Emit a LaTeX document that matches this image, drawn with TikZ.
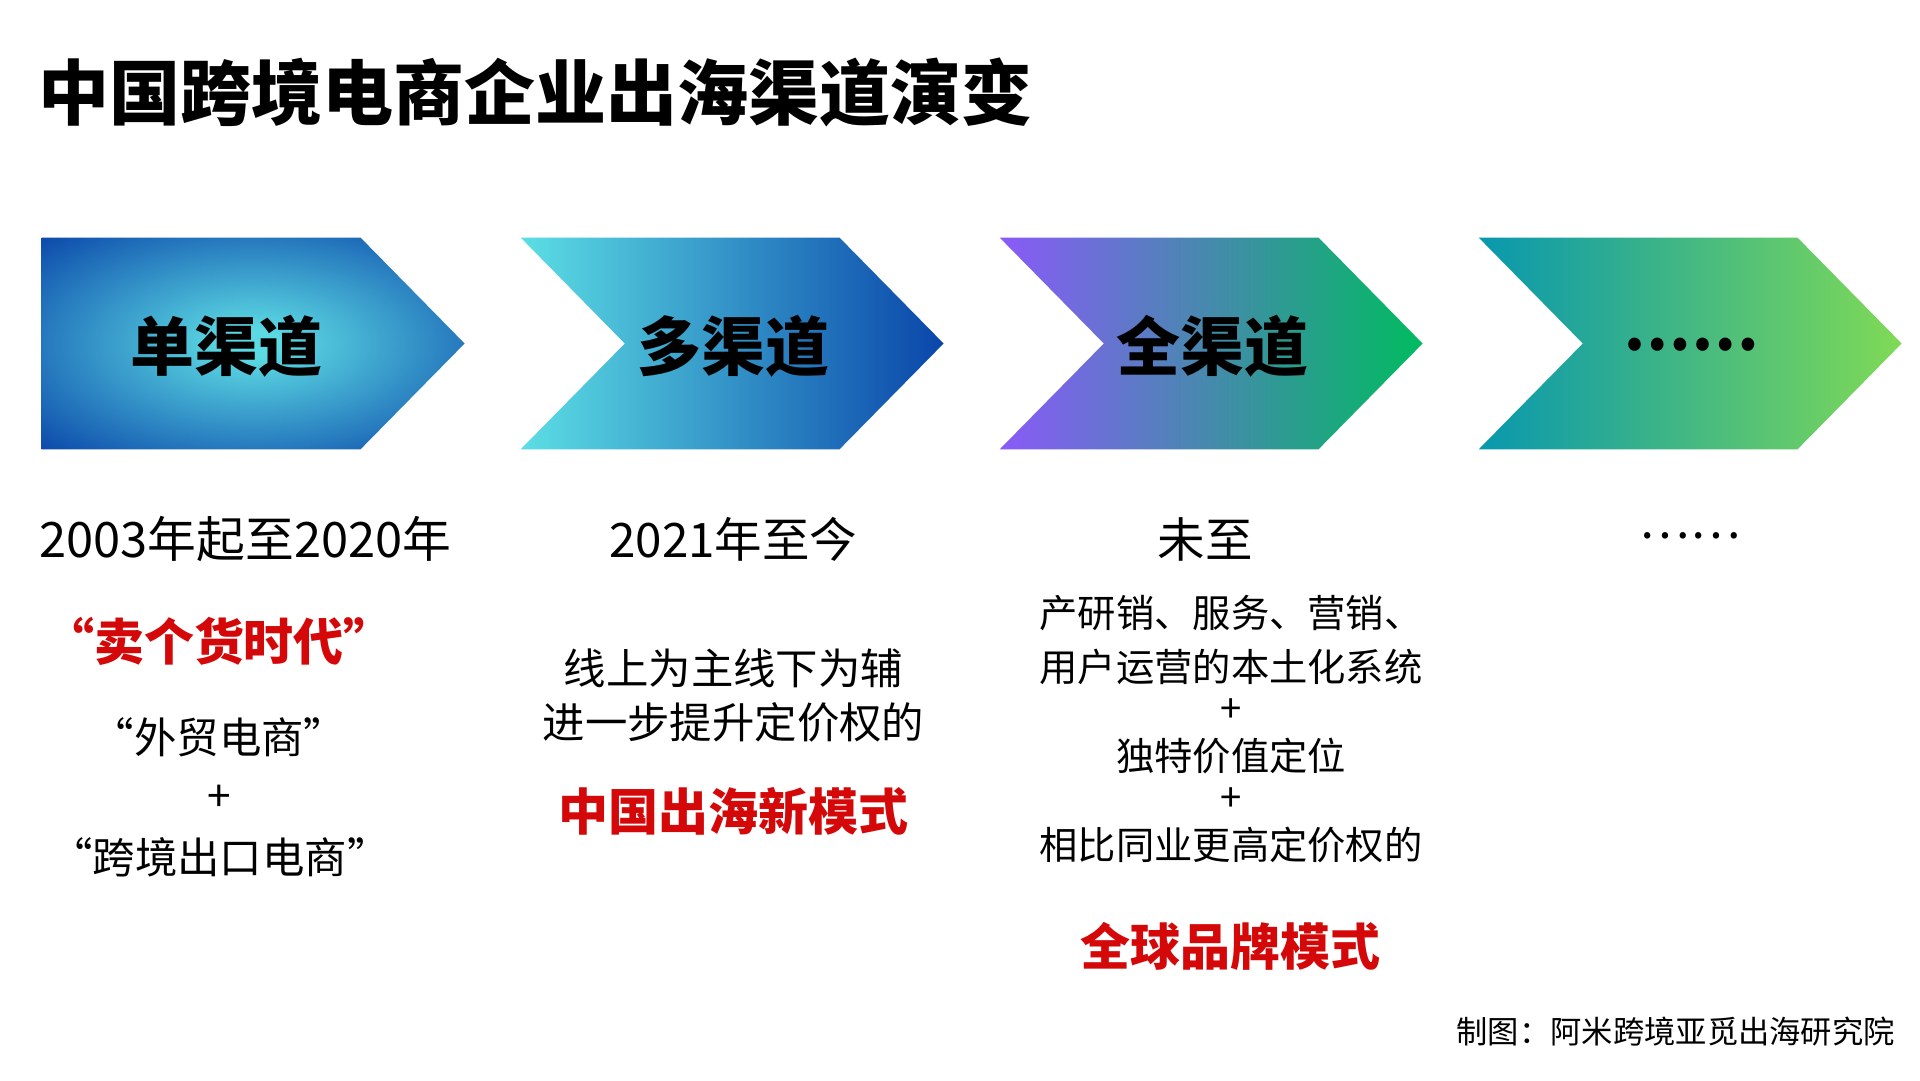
\documentclass[tikz,border=0pt]{standalone}
\usepackage{fontspec}
\setmainfont{Noto Sans CJK SC}
\definecolor{c1in}{HTML}{5CDAE3}
\definecolor{c1out}{HTML}{0A47AA}
\definecolor{c2l}{HTML}{5CDEE4}
\definecolor{c2r}{HTML}{0A46AA}
\definecolor{c3l}{HTML}{8A5AF8}
\definecolor{c3r}{HTML}{00BB60}
\definecolor{c4l}{HTML}{0897AE}
\definecolor{c4r}{HTML}{80DA56}
\definecolor{hlred}{HTML}{D40808}
\pgfdeclareradialshading{chevone}{\pgfpoint{0bp}{0bp}}{color(0bp)=(c1in); color(3bp)=(c1in); color(36bp)=(c1out); color(50bp)=(c1out)}
\tikzset{
  ttl/.style={font=\fontsize{71}{85}\selectfont\bfseries, anchor=west, inner sep=0pt},
  chtxt/.style={font=\fontsize{64}{76}\selectfont\bfseries, inner sep=0pt},
  datetxt/.style={font=\fontsize{47.5}{56}\selectfont, inner sep=0pt},
  bodytxt/.style={font=\fontsize{42.4}{50}\selectfont, inner sep=0pt},
  smalltxt/.style={font=\fontsize{38.3}{46}\selectfont, inner sep=0pt},
  hltxt/.style={font=\fontsize{50}{60}\selectfont\bfseries, text=hlred, inner sep=0pt},
  foottxt/.style={font=\fontsize{31.3}{37}\selectfont, anchor=east, inner sep=0pt},
}
\begin{document}
\begin{tikzpicture}[x=1pt,y=-1pt]
\useasboundingbox[fill=white] (0,0) rectangle (1920,1080);

% title
\node[ttl] (title) at (38,92) {中国跨境电商企业出海渠道演变};

% chevrons
\shade[shading=chevone] (41.6,237.5) -- (360.4,237.5) -- (464.6,343.5) -- (360.4,449.4) -- (41.6,449.4) -- cycle;
\shade[left color=c2l, right color=c2r] (520.6,237.5) -- (839.4,237.5) -- (943.6,343.5) -- (839.4,449.4) -- (520.6,449.4) -- (624.8,343.5) -- cycle;
\shade[left color=c3l, right color=c3r] (999.6,237.5) -- (1318.4,237.5) -- (1422.6,343.5) -- (1318.4,449.4) -- (999.6,449.4) -- (1103.8,343.5) -- cycle;
\shade[left color=c4l, right color=c4r] (1478.6,237.5) -- (1797.4,237.5) -- (1901.6,343.5) -- (1797.4,449.4) -- (1478.6,449.4) -- (1582.8,343.5) -- cycle;

\node[chtxt] (ch1) at (226.5,346.5) {单渠道};
\node[chtxt] (ch2) at (733.5,346.5) {多渠道};
\node[chtxt] (ch3) at (1212,346.5) {全渠道};
\node[chtxt, font=\fontsize{60}{70}\selectfont\bfseries] (ch4) at (1691,345) {……};

% column 1
\node[datetxt, font=\fontsize{48.8}{58}\selectfont] (d1) at (245.5,539) {2003年起至2020年};
\node[hltxt] (h1) at (219,641) {“卖个货时代”};
\node[bodytxt] (a1) at (219,737) {“外贸电商”};
\node[bodytxt] (p1) at (219,798) {+};
\node[bodytxt] (b1) at (220,857) {“跨境出口电商”};

% column 2
\node[datetxt] (d2) at (733.5,539) {2021年至今};
\node[bodytxt] (a2) at (733.5,668) {线上为主线下为辅};
\node[bodytxt] (b2) at (733.5,722) {进一步提升定价权的};
\node[hltxt] (h2) at (733.5,811) {中国出海新模式};

% column 3
\node[datetxt] (d3) at (1205,539) {未至};
\node[smalltxt] (a3) at (1231,613) {产研销、服务、营销、};
\node[smalltxt] (b3) at (1231,667) {用户运营的本土化系统};
\node[smalltxt] (p3) at (1231,711) {+};
\node[smalltxt] (c3) at (1231,756) {独特价值定位};
\node[smalltxt] (q3) at (1231,800) {+};
\node[smalltxt] (e3) at (1231,845) {相比同业更高定价权的};
\node[hltxt] (h3) at (1230,946) {全球品牌模式};

% column 4
\node[datetxt] (d4) at (1690,536) {……};

% footer
\node[foottxt] (foot) at (1895,1032) {制图：阿米跨境亚觅出海研究院};
\end{tikzpicture}
\end{document}
